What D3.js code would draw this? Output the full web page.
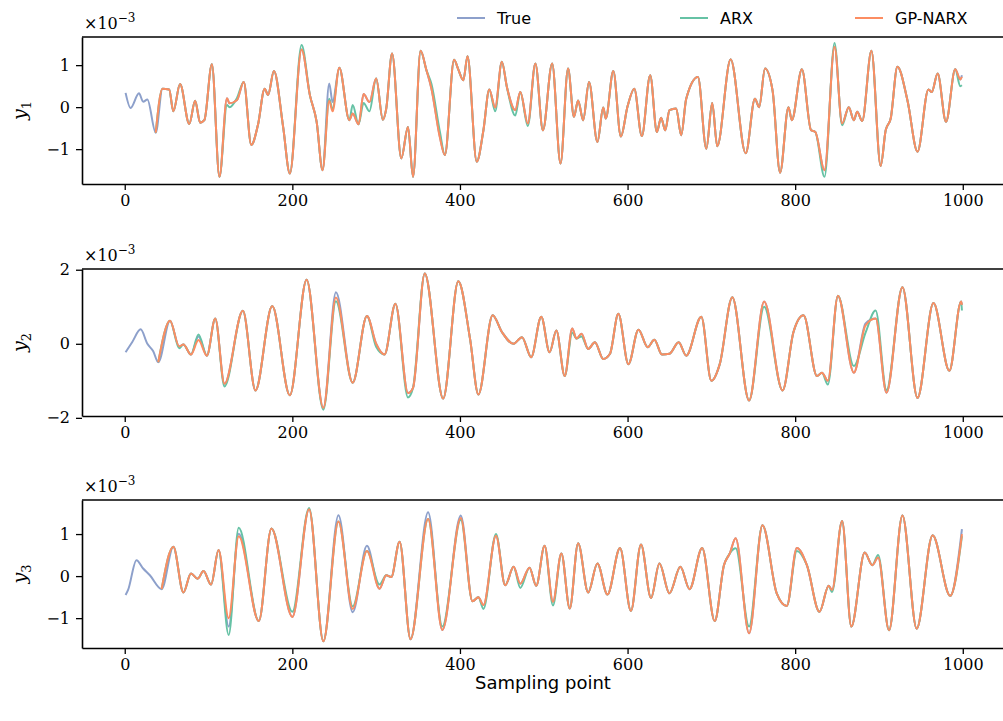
<!DOCTYPE html>
<html>
<head>
<meta charset="utf-8">
<script src="https://cdn.jsdelivr.net/npm/d3@7"></script>
<style>
  body { margin: 0; background: #fff; }
  .tick text { font-family: "DejaVu Serif", serif; font-size: 16px; }
</style>
</head>
<body>
<svg id="chart" width="1003" height="721"></svg>
<script>
// Turning points: sample index and value (x 1e-3)
var y1Idx = [1,7,17,22,27,37,45,53,58,66,77,84,90,95,104,113,122,125,134,142,151,159,167,171,178,189,197,211,221,229,236,244,248,256,268,272,279,285,292,300,308,312,319,330,338,344,353,360,366,376,382,393,398,404,409,420,428,435,442,450,456,466,472,481,490,499,510,520,529,536,541,547,554,564,571,574,583,592,600,608,617,627,635,640,645,650,658,664,670,684,694,701,707,723,741,752,757,764,773,782,792,796,808,819,824,835,847,856,864,870,874,880,891,902,908,914,922,934,946,959,963,970,980,991,997,999];
var y1True = [0.34,-0.02,0.33,0.13,0.18,-0.61,0.44,0.42,-0.1,0.55,-0.4,0.15,-0.37,-0.31,1.02,-1.66,0.21,0.09,0.17,0.6,-0.9,-0.42,0.44,0.29,0.86,-0.47,-1.58,1.37,0.28,-0.35,-1.5,0.56,0.12,0.94,-0.31,-0.15,-0.41,0.31,0.12,0.68,-0.3,-0.04,1.28,-1.22,-0.47,-1.66,1.34,0.88,0.44,-0.7,-1.14,1.13,0.9,0.64,1.21,-1.3,-0.55,0.42,-0.01,1.08,0.48,-0.07,0.36,-0.39,1.04,-0.55,1.04,-1.34,0.92,-0.23,0.16,-0.31,0.6,-0.83,-0.01,-0.27,0.86,-0.7,0.02,0.44,-0.69,0.76,-0.59,-0.25,-0.55,-0.07,-0.03,-0.67,0.2,0.72,-0.99,0.1,-0.93,1.14,-1.1,0.2,0.0,0.92,0.4,-1.56,0.0,-0.31,0.9,-0.55,-0.59,-1.5,1.44,-0.39,0.0,-0.31,-0.11,-0.33,1.34,-1.4,-0.55,-0.27,0.96,0.16,-1.06,0.42,0.36,0.8,-0.35,0.9,0.66,0.76];
var y1ArxDiff = [[122,0.05],[125,0.0],[134,0.22],[211,1.48],[244,0.2],[248,-0.05],[272,0.05],[285,0.1],[292,-0.1],[366,0.55],[376,-0.58],[442,-0.1],[466,-0.2],[481,-0.45],[835,-1.66],[847,1.53],[856,-0.43],[997,0.5],[999,0.52]];
var y1GpDiff = [[244,0.15],[248,-0.1],[376,-0.72],[999,0.72]];

var y2Idx = [1,9,19,27,34,40,54,65,70,79,88,98,108,119,141,156,176,197,217,237,252,272,289,300,310,323,338,344,358,380,398,412,422,439,450,464,474,485,497,507,515,525,534,539,545,553,561,571,579,589,601,613,624,632,641,650,661,670,688,700,710,725,745,763,785,798,810,826,832,839,851,870,884,896,909,928,946,965,984,998,999];
var y2True = [-0.23,0.05,0.39,0.0,-0.2,-0.5,0.62,-0.07,-0.02,-0.29,0.2,-0.32,0.68,-1.08,0.89,-1.26,1.02,-1.39,1.73,-1.73,1.39,-1.05,0.75,0.0,-0.29,1.08,-1.33,-1.19,1.9,-1.48,1.69,0.14,-1.37,0.77,0.32,0.0,0.18,-0.36,0.73,-0.23,0.36,-0.87,0.41,0.14,0.27,-0.14,0.04,-0.41,-0.27,0.81,-0.55,0.38,-0.09,0.11,-0.29,-0.27,0.04,-0.32,0.73,-1.0,-0.55,1.26,-1.53,1.14,-1.26,0.32,0.77,-0.87,-0.78,-1.0,1.3,-0.78,0.55,0.68,-1.32,1.53,-1.46,1.1,-0.73,1.14,1.05];
var y2ArxDiff = [[65,-0.12],[88,0.25],[119,-1.15],[237,-1.78],[252,1.15],[300,-0.08],[338,-1.45],[534,0.3],[545,0.2],[763,1.0],[839,-1.1],[870,-0.6],[884,0.3],[896,0.9],[909,-1.25],[999,0.9]];
var y2GpDiff = [[88,0.1],[252,1.25],[884,0.5]];

var y3Idx = [1,4,14,22,30,44,58,70,79,87,94,103,112,124,136,160,175,200,220,237,255,272,289,304,312,318,328,341,362,379,401,415,422,428,443,454,464,472,483,491,501,511,521,531,541,553,564,576,591,604,616,628,638,650,663,674,689,704,715,722,729,745,761,778,790,802,814,829,840,844,856,867,883,892,899,912,928,945,964,985,999];
var y3True = [-0.45,-0.33,0.38,0.18,0.02,-0.31,0.7,-0.39,0.06,-0.06,0.12,-0.2,0.62,-1.2,1.01,-1.07,1.13,-0.97,1.59,-1.55,1.45,-0.86,0.72,-0.3,0.02,-0.02,0.82,-1.5,1.52,-1.28,1.44,-0.6,-0.5,-0.69,0.96,-0.22,0.22,-0.18,0.2,-0.23,0.72,-0.61,0.54,-0.77,0.78,-0.39,0.3,-0.44,0.67,-0.83,0.75,-0.52,0.3,-0.41,0.22,-0.31,0.67,-1.07,0.26,0.54,0.9,-1.36,1.21,-0.41,-0.71,0.67,0.26,-0.85,-0.23,-0.33,1.31,-1.2,0.56,0.26,0.44,-1.29,1.44,-1.25,0.97,-0.47,1.12];
var y3ArxDiff = [[124,-1.4],[136,1.15],[200,-0.85],[220,1.62],[255,1.3],[272,-0.72],[289,0.6],[304,-0.2],[362,1.36],[379,-1.2],[401,1.34],[428,-0.78],[443,1.0],[472,-0.28],[511,-0.7],[729,0.66],[745,-1.2],[802,0.6],[844,-0.38],[899,0.5],[999,0.95]];
var y3GpDiff = [[124,-1.0],[136,0.95],[255,1.3],[272,-0.78],[289,0.6],[362,1.36],[401,1.38],[729,0.9],[999,1.0]];

var starts = [37, 40, 44];
var xTicks = [0, 200, 400, 600, 800, 1000];
var yTickSets = [[-1, 0, 1], [-2, 0, 2], [-1, 0, 1]];
var yDomains = [[-1.83, 1.67], [-1.95, 2.02], [-1.71, 1.81]];
var labels = ["True", "ARX", "GP-NARX"];
var colors = ["#8da0cb", "#66c2a5", "#fc8d62"];

var panels = [
  { idx: y1Idx, t: y1True, arx: y1ArxDiff, gp: y1GpDiff, top: 37, bottom: 184, name: "1" },
  { idx: y2Idx, t: y2True, arx: y2ArxDiff, gp: y2GpDiff, top: 269, bottom: 416, name: "2" },
  { idx: y3Idx, t: y3True, arx: y3ArxDiff, gp: y3GpDiff, top: 500, bottom: 648, name: "3" }
];

function buildSeries(idx, vals, diff, start) {
  var m = new Map(diff);
  var out = [];
  idx.forEach(function(s, i) {
    if (s >= start) out.push([s, m.has(s) ? m.get(s) : vals[i]]);
  });
  return out;
}

var svg = d3.select("#chart");
var x = d3.scaleLinear().domain([-51, 1048]).range([82, 1003]);

panels.forEach(function(p, k) {
  var y = d3.scaleLinear().domain(yDomains[k]).range([p.bottom, p.top]);
  var series = [
    buildSeries(p.idx, p.t, [], 0),
    buildSeries(p.idx, p.t, p.arx, starts[k]),
    buildSeries(p.idx, p.t, p.gp, starts[k])
  ];
  var line = d3.line().x(d => x(d[0])).y(d => y(d[1])).curve(d3.curveMonotoneX);

  series.forEach(function(s, j) {
    svg.append("path").datum(s)
      .attr("d", line).attr("fill", "none")
      .attr("stroke", colors[j]).attr("stroke-width", 2);
  });

  // frame: top spine
  svg.append("line").attr("x1", 82).attr("x2", 1003).attr("y1", p.top).attr("y2", p.top)
    .attr("stroke", "#000").attr("stroke-width", 1.6);

  svg.append("g").attr("transform", `translate(0,${p.bottom})`)
    .call(d3.axisBottom(x).tickValues(xTicks).tickFormat(d3.format("d")).tickSizeInner(6).tickSizeOuter(0).tickPadding(5))
    .call(g => g.select(".domain").attr("stroke-width", 1.6));
  svg.append("g").attr("transform", "translate(82,0)")
    .call(d3.axisLeft(y).tickValues(yTickSets[k]).tickFormat(d => d < 0 ? "\u2212" + (-d) : d).tickSizeInner(6).tickSizeOuter(0).tickPadding(6))
    .call(g => g.select(".domain").attr("stroke-width", 1.6));
  svg.selectAll(".tick line").attr("stroke-width", 1.3);

  // exponent label
  var ex = svg.append("text").attr("x", 84).attr("y", p.top - 8)
    .attr("font-family", "DejaVu Serif, serif").attr("font-size", 16);
  ex.append("tspan").text("\u00d710");
  ex.append("tspan").attr("dy", -7).attr("font-size", 12).text("\u22123");

  // y label
  var yl = svg.append("text")
    .attr("transform", `translate(26,${(p.top + p.bottom) / 2}) rotate(-90)`)
    .attr("text-anchor", "middle").attr("font-family", "DejaVu Serif, serif").attr("font-size", 19);
  yl.append("tspan").attr("font-style", "italic").text("y");
  yl.append("tspan").attr("dy", 5).attr("font-size", 13).text(p.name);
});

// legend
var legX = [457, 680, 855];
labels.forEach(function(l, i) {
  svg.append("line").attr("x1", legX[i]).attr("x2", legX[i] + 28).attr("y1", 18).attr("y2", 18)
    .attr("stroke", colors[i]).attr("stroke-width", 2);
  svg.append("text").attr("x", legX[i] + 40).attr("y", 24)
    .attr("font-family", "DejaVu Sans, sans-serif").attr("font-size", 16).text(l);
});

svg.append("text").attr("x", 543).attr("y", 689).attr("text-anchor", "middle")
  .attr("font-family", "DejaVu Sans, sans-serif").attr("font-size", 18).text("Sampling point");
</script>
</body>
</html>
